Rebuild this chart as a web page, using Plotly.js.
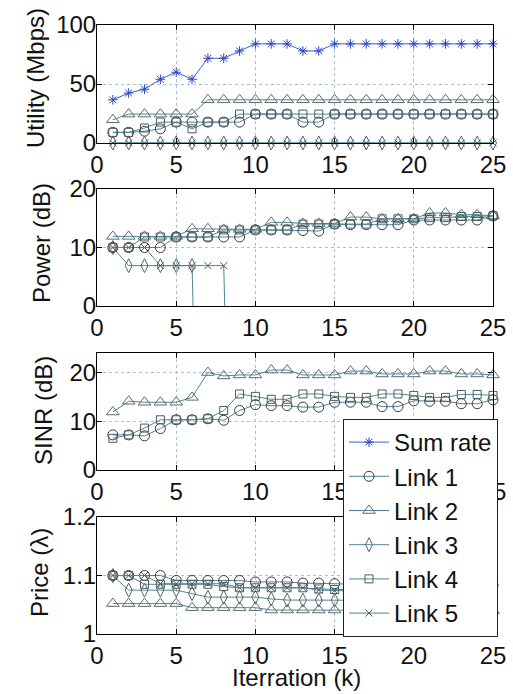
<!DOCTYPE html>
<html>
<head>
<meta charset="utf-8">
<script src="https://cdn.plot.ly/plotly-3.0.1.min.js"></script>
<style>
html,body{margin:0;padding:0;background:#fff;}
#chart{width:513px;height:694px;}
</style>
</head>
<body>
<div id="chart"></div>
<script>
// ---------- data ----------
const iterations = [1,2,3,4,5,6,7,8,9,10,11,12,13,14,15,16,17,18,19,20,21,22,23,24,25];
const seriesNames = ["Sum rate","Link 1","Link 2","Link 3","Link 4","Link 5"];

// Utility (Mbps)
const utilSum = [36.6,42.3,45.6,54,60,54,71.8,71.8,78,84,84,84,78,78,84,84,84,84,84,84,84,84,84,84,84];
const utilL1  = [9,9,10,12,17.7,17.7,17.7,17.7,17.7,24.5,24.5,24.5,17.7,17.7,24.5,24.5,24.5,24.5,24.5,24.5,24.5,24.5,24.5,24.5,24.5];
const utilL2  = [19.7,24.5,24.5,24.5,24.5,24.5,36.6,36.6,36.6,36.6,36.6,36.6,36.6,36.6,36.6,36.6,36.6,36.6,36.6,36.6,36.6,36.6,36.6,36.6,36.6];
const utilL3  = [0,0,0,0,0,0,0,0,0,0,0,0,0,0,0,0,0,0,0,0,0,0,0,0,0];
const utilL4  = [9,9,12.7,17.7,17.7,12,17.7,17.7,24.5,24.5,24.5,24.5,24.5,24.5,24.5,24.5,24.5,24.5,24.5,24.5,24.5,24.5,24.5,24.5,24.5];
const utilL5  = [0,0,0,0,0,0,0,0,0,0,0,0,0,0,0,0,0,0,0,0,0,0,0,0,0];

// Power (dB)  (links switched off fall far below the axis)
const powL1 = [10,10,10,10,11.8,11.8,11.8,11.8,11.8,13,13,13,12.9,12.8,14,13.9,13.9,13.9,13.9,14.7,14.7,14.7,14.7,14.7,15.4];
const powL2 = [11.9,11.9,11.9,11.9,11.9,13.2,13.2,13.1,13.1,13.1,14.3,14.3,14.1,14.1,14.1,15.2,15.2,14.9,14.9,14.9,15.9,15.9,15.6,15.6,15.4];
const powL3 = [10,6.9,6.9,6.9,6.9,6.9,-100,-100,-100,-100,-100,-100,-100,-100,-100,-100,-100,-100,-100,-100,-100,-100,-100,-100,-100];
const powL4 = [10,10,11.8,11.8,11.8,11.8,11.8,13,13,13,13,13,14,14,14,14,14,14.9,14.9,14.9,15.1,15.1,15.3,15.3,15.4];
const powL5 = [10,10,10,6.9,6.9,6.9,6.9,6.9,-100,-100,-100,-100,-100,-100,-100,-100,-100,-100,-100,-100,-100,-100,-100,-100,-100];

// SINR (dB)
const sinrL1 = [7.2,7.2,7,8.5,10.3,10.3,10.5,10.2,12.2,13.4,13.2,13.2,12.9,12.9,13.9,13.9,13.9,13,13,14.2,14.1,14.1,13.6,13.6,14.4];
const sinrL2 = [11.9,14.1,13.9,13.9,13.9,14.9,20,19.3,19.5,19.5,20.5,20.5,19.5,19.5,19.5,20.3,20.3,19.7,19.7,19.7,20.3,20.3,19.7,19.7,19.5];
const sinrL3 = [null,null,null,null,null,null,null,null,null,null,null,null,null,null,null,null,null,null,null,null,null,null,null,null,null];
const sinrL4 = [6.5,7.2,8.6,10.3,10.3,10.3,10.5,12.2,15.6,15.1,14.5,14.5,15.6,15.6,15.1,14.9,14.9,15.6,15.6,15.3,14.9,14.9,15.5,15.5,15.3];
const sinrL5 = [null,null,null,null,null,null,null,null,null,null,null,null,null,null,null,null,null,null,null,null,null,null,null,null,null];

// Price (lambda)
const priceL1 = [1.1,1.1,1.1,1.1,1.0915,1.0915,1.0915,1.0915,1.0915,1.089,1.089,1.089,1.087,1.087,1.086,1.085,1.085,1.085,1.084,1.084,1.084,1.083,1.083,1.083,1.083];
const priceL2 = [1.052,1.052,1.052,1.052,1.052,1.045,1.045,1.045,1.045,1.045,1.041,1.041,1.041,1.041,1.041,1.04,1.04,1.04,1.04,1.04,1.04,1.04,1.04,1.04,1.04];
const priceL3 = [1.1,1.075,1.075,1.075,1.075,1.069,1.063,1.063,1.063,1.063,1.06,1.058,1.058,1.058,1.058,1.057,1.057,1.057,1.057,1.057,1.057,1.057,1.057,1.057,1.057];
const priceL4 = [1.1,1.1,1.085,1.085,1.085,1.085,1.085,1.081,1.079,1.079,1.079,1.079,1.079,1.077,1.076,1.075,1.075,1.075,1.075,1.075,1.075,1.075,1.075,1.075,1.075];
const priceL5 = [1.1,1.1,1.1,1.086,1.086,1.086,1.086,1.086,1.079,1.079,1.079,1.079,1.079,1.075,1.074,1.073,1.073,1.073,1.073,1.073,1.073,1.073,1.073,1.073,1.073];

const xTicks = [0,5,10,15,20,25];
const yTitles = ["Utility (Mbps)","Power (dB)","SINR (dB)","Price (λ)"];
const xTitle = "Iterration (k)";

// ---------- styling ----------
const FONT = "Liberation Sans, Arial, Helvetica, sans-serif";
const LINK_LINE = "#4b8794";
const styles = [
  {line:"#3e60d0", mk:"asterisk-open", mc:"#2b45c4", size:8},
  {line:LINK_LINE, mk:"circle-open", mc:"#3a3a3a", size:10},
  {line:LINK_LINE, mk:"triangle-up-open", mc:"#5d6a6c", size:11},
  {line:LINK_LINE, mk:"diamond-tall-open", mc:"#5a6566", size:10},
  {line:LINK_LINE, mk:"square-open", mc:"#4e5a5c", size:8},
  {line:LINK_LINE, mk:"x-thin-open", mc:"#4e5a5c", size:7}
];

// pixel geometry -> paper coordinates
const W = 513, H = 694;
const PL = 97, PR = 493, PT = 25, PB = 634;
const px2x = p => (p - PL) / (PR - PL);
const py2y = p => (PB - p) / (PB - PT);
const panels = [[25,143],[189,306],[353,470],[517,634]];

const traces = [];
function add(panel, idx, y, clip, showLeg){
  const s = styles[idx];
  traces.push({
    x: iterations, y: y, type: "scatter", mode: "lines+markers",
    name: seriesNames[idx], legendgroup: seriesNames[idx], showlegend: showLeg,
    xaxis: panel === 0 ? "x" : "x" + (panel+1),
    yaxis: panel === 0 ? "y" : "y" + (panel+1),
    line: {color: s.line, width: 1},
    marker: {symbol: s.mk, size: s.size, color: s.mc, line: {color: s.mc, width: 1}},
    cliponaxis: clip, connectgaps: false, hoverinfo: "skip"
  });
}
// panel 1 : utility (defines the legend)
add(0,0,utilSum,false,true);
add(0,1,utilL1,false,true);
add(0,2,utilL2,false,true);
add(0,3,utilL3,false,true);
add(0,4,utilL4,false,true);
add(0,5,utilL5,false,true);
// panel 2 : power
add(1,3,powL3,true,false);
add(1,5,powL5,true,false);
add(1,2,powL2,false,false);
add(1,1,powL1,false,false);
add(1,4,powL4,false,false);
// panel 3 : SINR
add(2,3,sinrL3,false,false);
add(2,5,sinrL5,false,false);
add(2,2,sinrL2,false,false);
add(2,1,sinrL1,false,false);
add(2,4,sinrL4,false,false);
// panel 4 : price
add(3,2,priceL2,false,false);
add(3,3,priceL3,false,false);
add(3,1,priceL1,false,false);
add(3,4,priceL4,false,false);
add(3,5,priceL5,false,false);

const yRanges = [[0,100],[0,20],[0,24],[1,1.2]];
const yTickVals = [[0,50,100],[0,10,20],[0,10,20],[1,1.1,1.2]];

const layout = {
  width: W, height: H,
  margin: {l: PL, r: W - PR, t: PT, b: H - PB},
  paper_bgcolor: "#ffffff", plot_bgcolor: "#ffffff",
  font: {family: FONT, size: 24, color: "#111"},
  showlegend: true,
  legend: {
    x: px2x(343), y: py2y(419), xanchor: "left", yanchor: "top",
    bgcolor: "#ffffff", bordercolor: "#222", borderwidth: 1,
    font: {family: FONT, size: 24, color: "#111"},
    itemwidth: 40, tracegroupgap: 0,
    entrywidth: 112, entrywidthmode: "pixels"
  },
  annotations: [],
  hovermode: false
};

const titlePos = [[35,78],[41,243],[43,411],[39,573]];
for (let i = 0; i < 4; i++){
  const sx = i === 0 ? "" : String(i+1);
  const dom = [py2y(panels[i][1]), py2y(panels[i][0])];
  layout["xaxis" + sx] = {
    domain: [0,1], anchor: "y" + sx, range: [0,25],
    tickvals: xTicks, ticks: "inside", ticklen: 5, tickcolor: "#000",
    showline: true, linecolor: "#000", linewidth: 1, mirror: "ticks",
    showgrid: true, gridcolor: "#9cc2de", griddash: "dot", gridwidth: 1,
    zeroline: false, tickfont: {family: FONT, size: 24, color: "#111"},
    fixedrange: true
  };
  layout["yaxis" + sx] = {
    domain: dom, anchor: "x" + sx, range: yRanges[i],
    tickvals: yTickVals[i], ticks: "inside", ticklen: 5, tickcolor: "#000",
    ticklabelstandoff: -5,
    showline: true, linecolor: "#000", linewidth: 1, mirror: "ticks",
    showgrid: true, gridcolor: "#9cc2de", griddash: "dot", gridwidth: 1,
    zeroline: false, tickfont: {family: FONT, size: 24, color: "#111"},
    fixedrange: true
  };
  layout.annotations.push({
    text: yTitles[i], xref: "paper", yref: "paper",
    x: px2x(titlePos[i][0]), y: py2y(titlePos[i][1]),
    xanchor: "center", yanchor: "middle", textangle: -90, showarrow: false,
    font: {family: FONT, size: 24, color: "#111"}
  });
}
layout.annotations.push({
  text: xTitle, xref: "paper", yref: "paper",
  x: px2x(296), y: py2y(677), xanchor: "center", yanchor: "middle",
  showarrow: false, font: {family: FONT, size: 24, color: "#111"}
});

Plotly.newPlot("chart", traces, layout, {displayModeBar: false, staticPlot: true});
</script>
</body>
</html>
